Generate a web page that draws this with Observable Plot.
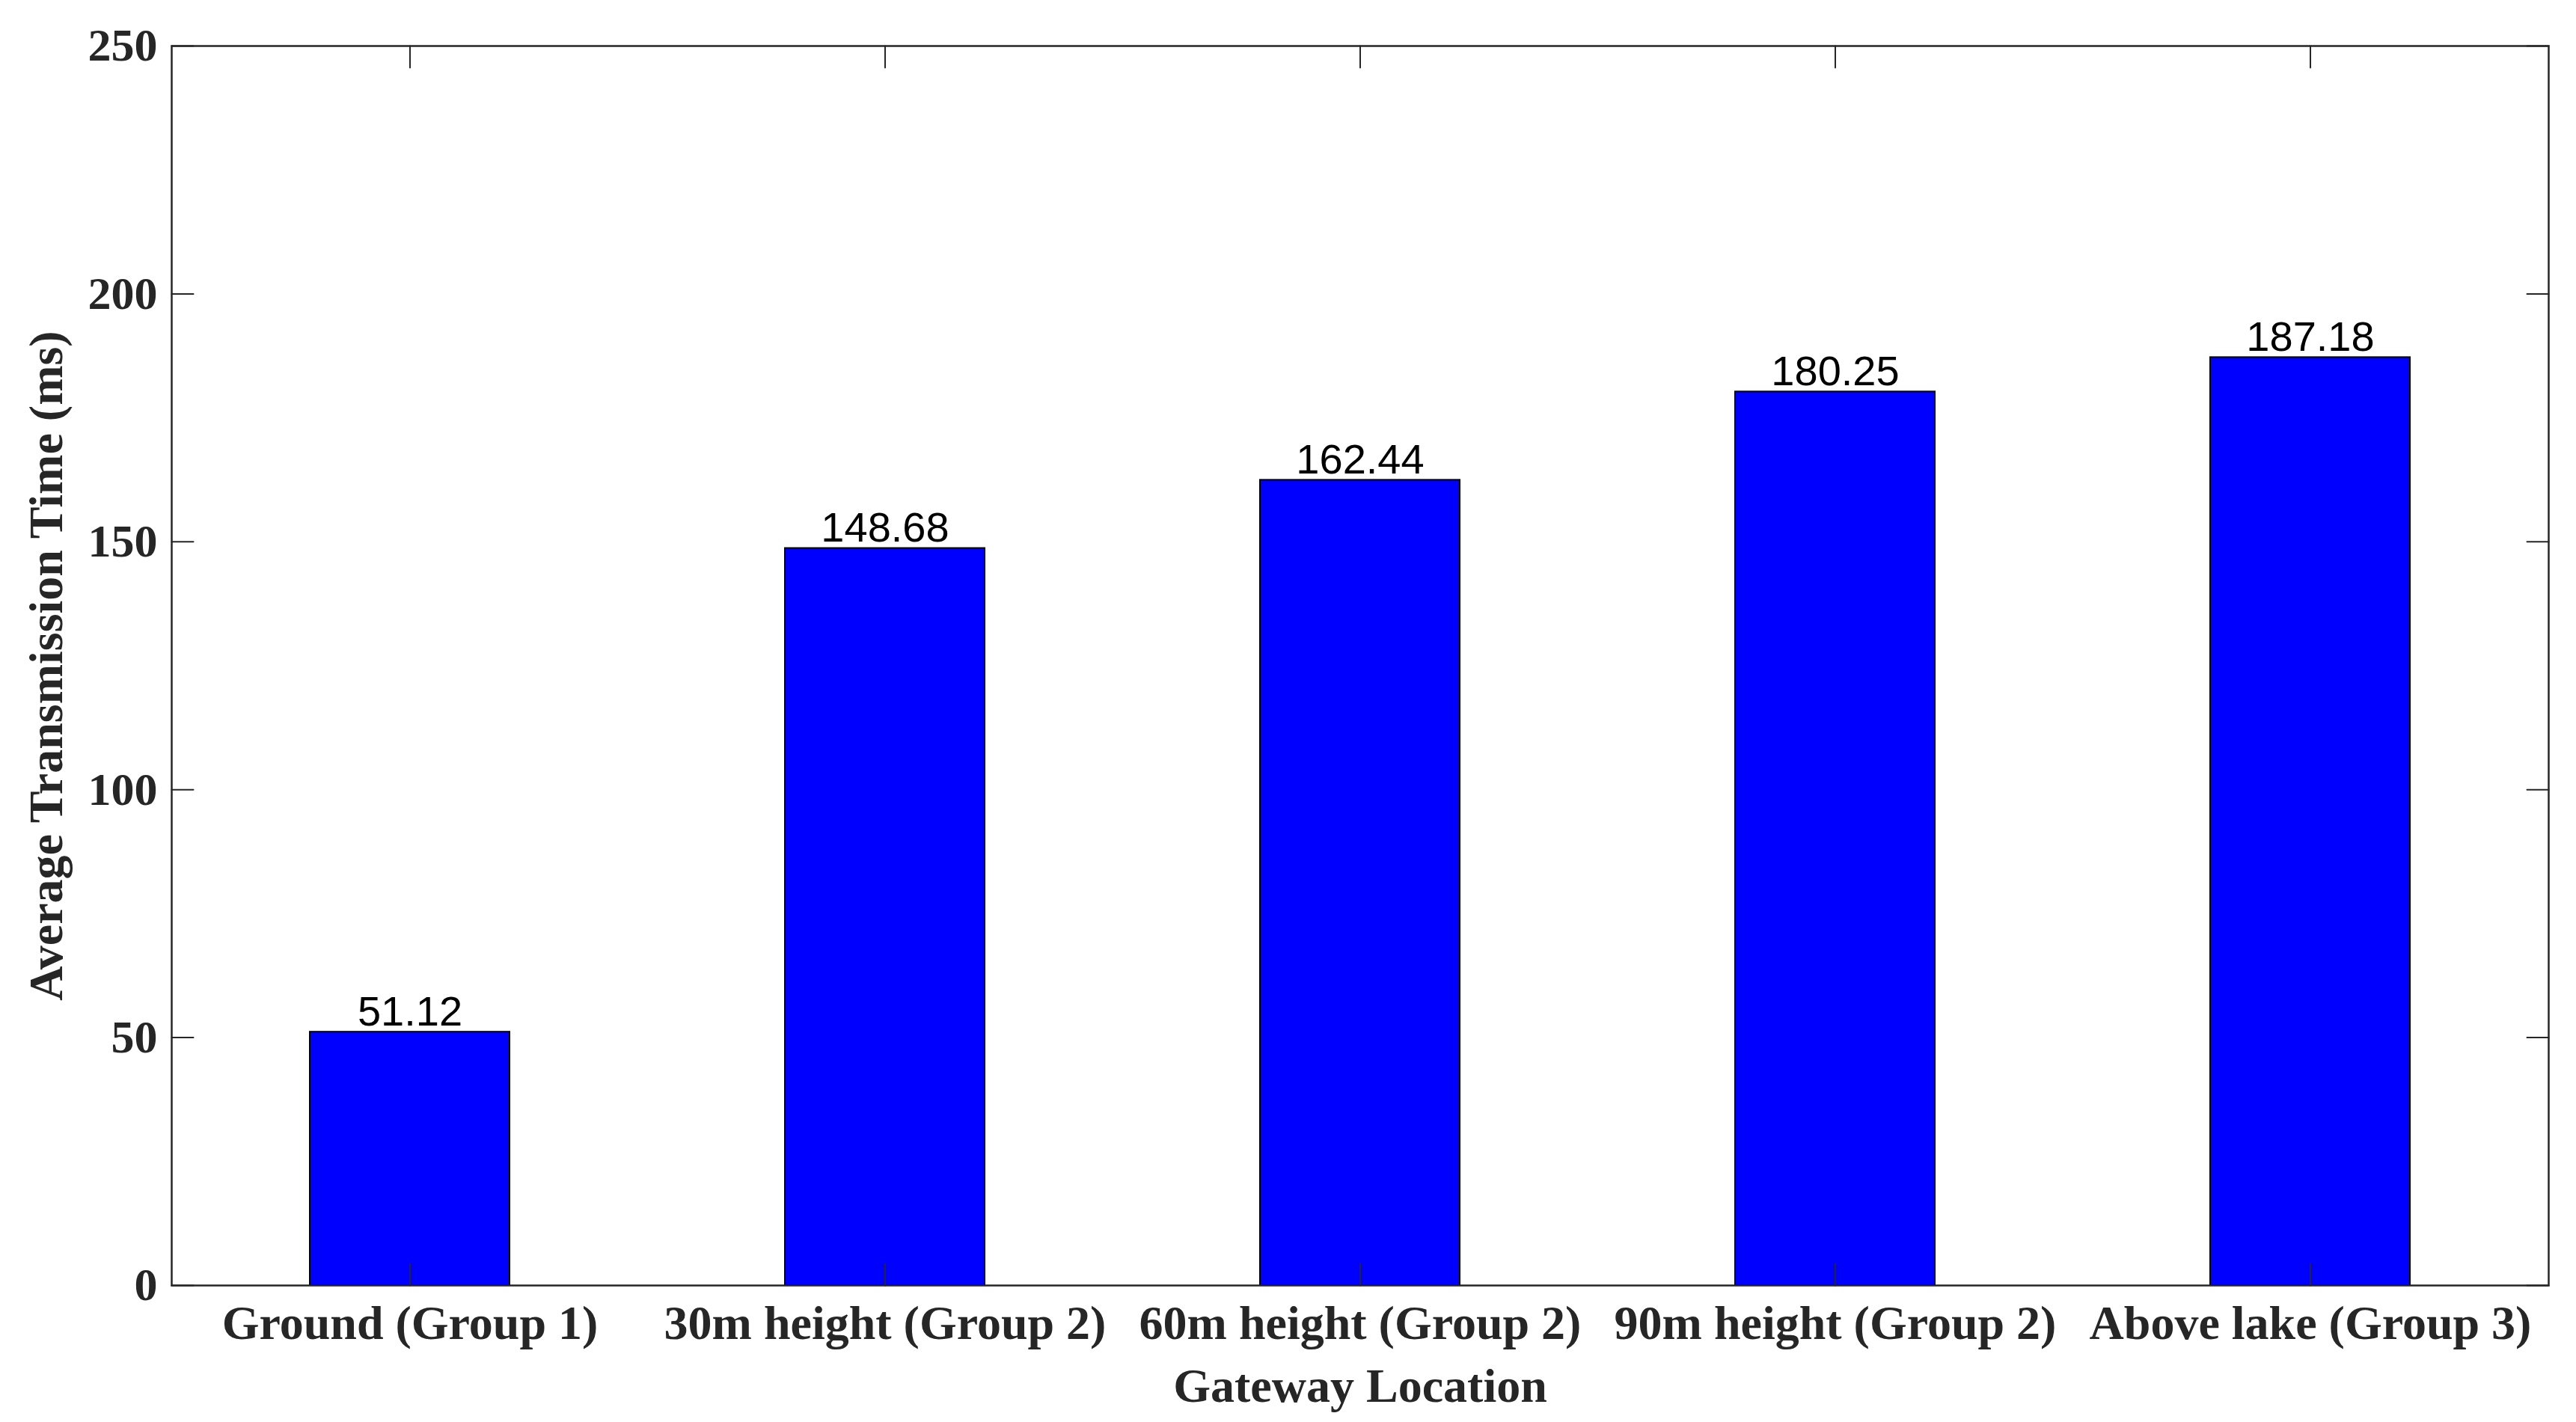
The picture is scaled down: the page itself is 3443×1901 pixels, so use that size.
<!DOCTYPE html>
<html><head><meta charset="utf-8">
<script src="https://cdn.jsdelivr.net/npm/d3@7"></script>
<script src="https://cdn.jsdelivr.net/npm/@observablehq/plot@0.6"></script>
<style>body{margin:0;background:#fff;} svg{display:block}</style>
</head><body><div id="chart"></div>
<script>
const categories = ["Ground (Group 1)", "30m height (Group 2)", "60m height (Group 2)", "90m height (Group 2)", "Above lake (Group 3)"];
const values = [51.12, 148.68, 162.44, 180.25, 187.18];
const yTicks = [0, 50, 100, 150, 200, 250];
const xTitle = "Gateway Location";
const yTitle = "Average Transmission Time (ms)";

const data = categories.map((c, i) => ({category: c, value: values[i]}));
const serif = "'Liberation Serif', 'Times New Roman', serif";
const sans = "'Liberation Sans', Arial, sans-serif";
const axisColor = "#262626";
const tickLen = 29;
const tickStyle = {length: tickLen, anchor: "start", shape: "spike", r: 0, fill: "none", stroke: axisColor, strokeWidth: 2};

const chart = Plot.plot({
  width: 3443, height: 1901,
  marginLeft: 229, marginRight: 37, marginTop: 61, marginBottom: 183,
  style: {background: "#fff"},
  x: {domain: categories, paddingInner: 0.58, paddingOuter: 0.29, axis: null},
  y: {domain: [0, 250], axis: null},
  marks: [
    Plot.barY(data, {x: "category", y: "value", fill: "#0000ff", stroke: "#000", strokeWidth: 2}),
    Plot.text(data, {x: "category", y: "value", text: d => d.value.toFixed(2), lineAnchor: "bottom", dy: -9, fontSize: 56, fontFamily: sans, fill: "#000"}),
    Plot.frame({stroke: axisColor, strokeWidth: 2.5}),
    Plot.vector(categories, {x: d => d, frameAnchor: "bottom", rotate: 0, ...tickStyle}),
    Plot.vector(categories, {x: d => d, frameAnchor: "top", rotate: 180, ...tickStyle}),
    Plot.vector(yTicks, {y: d => d, frameAnchor: "left", rotate: 90, ...tickStyle}),
    Plot.vector(yTicks, {y: d => d, frameAnchor: "right", rotate: -90, ...tickStyle}),
    Plot.text(yTicks, {y: d => d, frameAnchor: "left", text: d => String(d), textAnchor: "end", dx: -19, fontSize: 62, fontWeight: "bold", fontFamily: serif, fill: axisColor}),
    Plot.text(categories, {x: d => d, frameAnchor: "bottom", text: d => d, textAnchor: "middle", lineAnchor: "top", dy: 26, fontSize: 64, fontWeight: "bold", fontFamily: serif, fill: axisColor}),
    Plot.text([xTitle], {frameAnchor: "bottom", text: d => d, textAnchor: "middle", lineAnchor: "bottom", dy: 155, fontSize: 64, fontWeight: "bold", fontFamily: serif, fill: axisColor}),
    Plot.text([yTitle], {frameAnchor: "left", text: d => d, rotate: -90, textAnchor: "middle", dx: -147, lineAnchor: "bottom", fontSize: 64, fontWeight: "bold", fontFamily: serif, fill: axisColor})
  ]
});
document.getElementById("chart").appendChild(chart);
</script>
</body></html>
